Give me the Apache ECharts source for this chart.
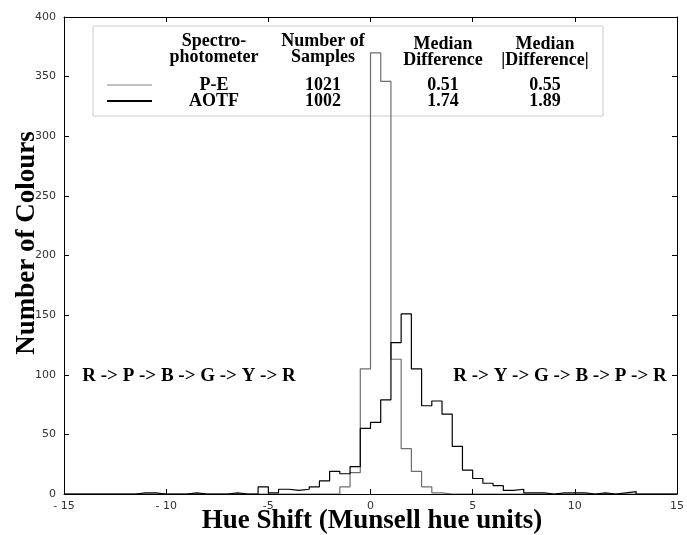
<!DOCTYPE html>
<html><head><meta charset="utf-8">
<script src="https://cdn.jsdelivr.net/npm/echarts@6/dist/echarts.min.js"></script>
<style>html,body{margin:0;padding:0;background:#fff}#c{width:687px;height:535px}</style>
</head><body><div id="c"></div>
<script>
// Histogram bins: left edge of first bin and bin width (Munsell hue units)
const binStart = -15;
const binWidth = 0.5;

// Counts per bin, bins from -15 to +15 in 0.5 steps
const peCounts = [
  0,0,0,0,0,0,0,0,0,0, 0,0,0,0,0,0,0,0,0,0, 0,0,0,0,0,0,0,
  6,18,105,370,346,113,38,19,6,1,
  0,0,0,0,0,0,0,0,0,0, 0,0,0,0,0,0,0,0,0,0, 0,0,0
];
const aotfCounts = [
  0,0,0,0,0,0,0, 1,1,0,0,0,1,0,0,0,
  1,0,0,6,1,4,3,4,6,11,
  19,17,23,55,60,79,127,151,105,74,
  78,67,40,20,13,9,7,3,4,1,
  1,0,1,1,1,0,1,0,1,2,
  0,0,0,0
];

const xTickLabels = {'-15':'- 15','-10':'- 10','-5':'-5','0':'0','5':'5','10':'10','15':'15'};

// Legend table
const tableHeaders = [['Spectro-','photometer'],['Number of','Samples'],['Median','Difference'],['Median','|Difference|']];
const instruments = ['P-E','AOTF'];
const sampleCounts = ['1021','1002'];
const medianDiff = ['0.51','1.74'];
const medianAbsDiff = ['0.55','1.89'];

const leftNote = 'R -> P -> B -> G -> Y -> R';
const rightNote = 'R -> Y -> G -> B -> P -> R';

function toSteps(counts){
  const pts = [];
  for (let i = 0; i < counts.length; i++) pts.push([binStart + i*binWidth, counts[i]]);
  pts.push([binStart + counts.length*binWidth, counts[counts.length-1]]);
  return pts;
}

const serifB = {fontFamily:'"Liberation Serif","Times New Roman",serif', fontWeight:'bold', fill:'#000'};

const graphics = [];
// legend box
graphics.push({type:'rect', shape:{x:93,y:26,width:510,height:90}, style:{fill:'rgba(255,255,255,0)', stroke:'#cccccc', lineWidth:1}, z:1});
const colX = [214, 323, 443, 545];
tableHeaders.forEach((h, j) => {
  const dy = j >= 2 ? 3 : 0;
  graphics.push({type:'text', x:colX[j], y:41+dy, style:Object.assign({text:h[0], fontSize:18, textAlign:'center', textVerticalAlign:'middle'}, serifB), z:10});
  graphics.push({type:'text', x:colX[j], y:57+dy, style:Object.assign({text:h[1], fontSize:18, textAlign:'center', textVerticalAlign:'middle'}, serifB), z:10});
});
const rowY = [85, 101];
const rowColor = ['#808080', '#000000'];
const rowWidth = [1, 2];
instruments.forEach((name, r) => {
  graphics.push({type:'line', shape:{x1:107,y1:rowY[r],x2:152,y2:rowY[r]}, style:{stroke:rowColor[r], lineWidth:rowWidth[r]}, z:10});
  [name, sampleCounts[r], medianDiff[r], medianAbsDiff[r]].forEach((t, j) => {
    graphics.push({type:'text', x:colX[j], y:rowY[r], style:Object.assign({text:t, fontSize:18, textAlign:'center', textVerticalAlign:'middle'}, serifB), z:10});
  });
});
// annotations
graphics.push({type:'text', x:189, y:376, style:Object.assign({text:leftNote, fontSize:19, textAlign:'center', textVerticalAlign:'middle'}, serifB), z:10});
graphics.push({type:'text', x:560, y:376, style:Object.assign({text:rightNote, fontSize:19, textAlign:'center', textVerticalAlign:'middle'}, serifB), z:10});
// axis titles
graphics.push({type:'text', x:372, y:521, style:Object.assign({text:'Hue Shift (Munsell hue units)', fontSize:27, textAlign:'center', textVerticalAlign:'middle'}, serifB), z:10});
graphics.push({type:'text', x:27, y:243, rotation:Math.PI/2, style:Object.assign({text:'Number of Colours', fontSize:27, textAlign:'center', textVerticalAlign:'middle'}, serifB), z:10});

const tickFont = {fontFamily:'"DejaVu Sans",sans-serif', fontSize:11, color:'#333'};
const axisLineStyle = {show:true, onZero:false, lineStyle:{color:'#000', width:1}};
const tickStyle = {show:true, inside:true, length:5, lineStyle:{color:'#000'}};

const option = {
  animation:false,
  backgroundColor:'#fff',
  grid:{left:64, right:7, top:17, bottom:41, containLabel:false},
  xAxis:[
    {type:'value', position:'bottom', min:-15, max:15, interval:5, z:5,
     axisLine:axisLineStyle, axisTick:tickStyle,
     axisLabel:Object.assign({margin:7, formatter:v => xTickLabels[String(v)] || String(v)}, tickFont),
     splitLine:{show:false}},
    {type:'value', position:'top', min:-15, max:15, interval:5, z:5,
     axisLine:axisLineStyle, axisTick:tickStyle,
     axisLabel:{show:false}, splitLine:{show:false}}
  ],
  yAxis:[
    {type:'value', position:'left', min:0, max:400, interval:50, z:5,
     axisLine:axisLineStyle, axisTick:tickStyle,
     axisLabel:Object.assign({margin:8}, tickFont), splitLine:{show:false}},
    {type:'value', position:'right', min:0, max:400, interval:50, z:5,
     axisLine:axisLineStyle, axisTick:tickStyle,
     axisLabel:{show:false}, splitLine:{show:false}}
  ],
  series:[
    {name:'P-E', type:'line', step:'end', data:toSteps(peCounts), showSymbol:false, symbol:'none',
     lineStyle:{color:'#6e6e6e', width:1.2}, z:2},
    {name:'AOTF', type:'line', step:'end', data:toSteps(aotfCounts), showSymbol:false, symbol:'none',
     lineStyle:{color:'#000', width:1.2}, z:3}
  ],
  graphic:graphics
};
const chart = echarts.init(document.getElementById('c'), null, {renderer:'canvas'});
chart.setOption(option);
</script></body></html>
